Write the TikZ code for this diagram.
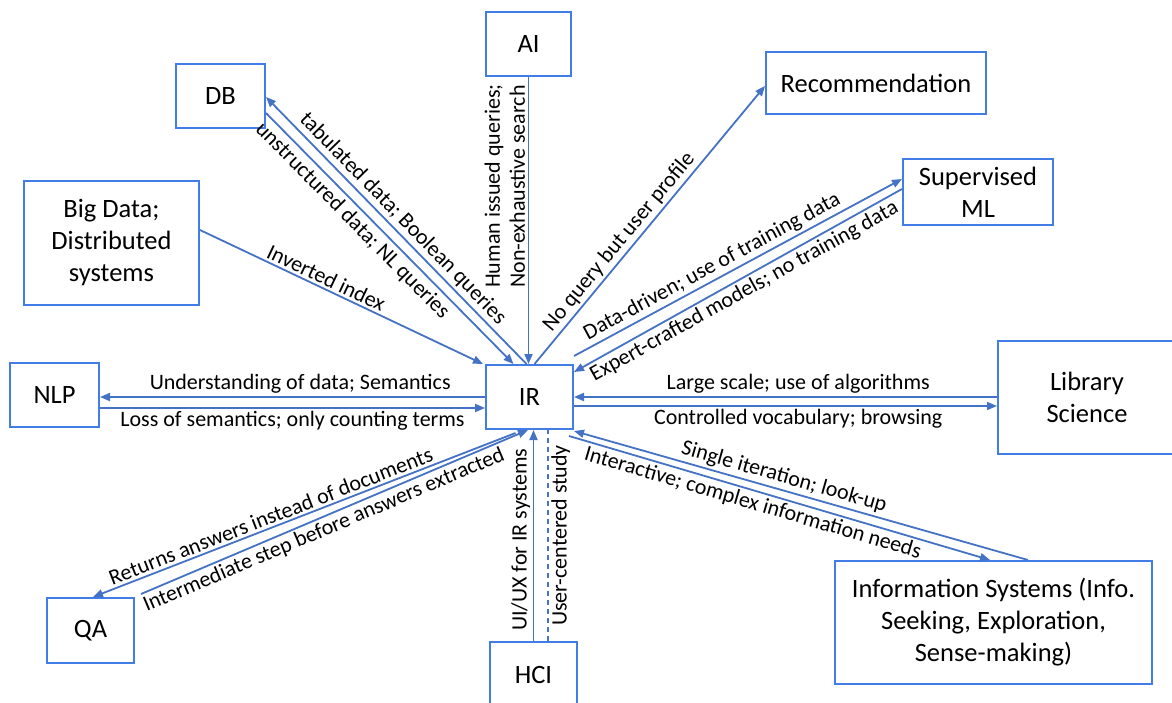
\documentclass[tikz,border=0pt]{standalone}
\usepackage{fontspec}
\setmainfont{Carlito}
\usepackage{tikz}
\usetikzlibrary{arrows.meta,positioning,calc}
\definecolor{irline}{RGB}{68,114,196}
\definecolor{irbox}{RGB}{66,124,230}

\begin{document}
\begin{tikzpicture}[
  x=1pt, y=-1pt,
  box/.style={rectangle, draw=irbox, line width=2pt, fill=white, align=center, inner sep=0pt,
    font=\fontsize{26.5}{32}\selectfont},
  conn/.style={draw=irline, line width=1.8pt, -{Triangle[length=10pt,width=8pt]}},
  plain/.style={draw=irline, line width=1.8pt},
  lbl/.style={font=\fontsize{22}{25}\selectfont, inner sep=2.5pt, sloped},
]
  \useasboundingbox (0,0) rectangle (1172,703);

  % Fields
  \node[box, minimum width=87pt, minimum height=64pt] (ir) at (529.5,397) {IR};
  \node[box, minimum width=85pt, minimum height=64pt] (ai) at (528.5,44) {AI};
  \node[box, minimum width=89pt, minimum height=64pt] (db) at (220.5,96) {DB};
  \node[box, minimum width=175pt, minimum height=124pt] (bigdata) at (111.5,243) {Big Data;\\Distributed\\systems};
  \node[box, minimum width=220pt, minimum height=62pt] (rec) at (876,83) {Recommendation};
  \node[box, minimum width=150pt, minimum height=66pt] (supml) at (978,192) {Supervised\\ML};
  \node[box, minimum width=89pt, minimum height=64pt] (nlp) at (54.5,395) {NLP};
  \node[box, minimum width=178pt, minimum height=113pt] (lib) at (1087,397.5) {Library\\Science};
  \node[box, minimum width=317pt, minimum height=123pt] (infosys) at (993.5,622.5) {Information Systems (Info.\\Seeking, Exploration,\\Sense-making)};
  \node[box, minimum width=87pt, minimum height=65pt] (qa) at (90.5,630.5) {QA};
  \node[box, minimum width=87pt, minimum height=65pt] (hci) at (533.5,674.5) {HCI};

  % Upper half
  \draw[conn] (ai.south) -- node[lbl, sloped=false, rotate=90, anchor=south, align=left, pos=0.38]
    {Human issued queries;\\Non-exhaustive search} (ai.south |- ir.north);
  \draw[conn] ($(ir.north)+(-3,0)$) -- node[lbl, above, pos=0.51] {tabulated data; Boolean queries} ($(db.east)+(0,1)$);
  \draw[conn] ($(db.east)+(0,17)$) -- node[lbl, below, pos=0.39, inner sep=4pt] {unstructured data; NL queries} ($(ir.north)+(-16,0)$);
  \draw[conn] ($(bigdata.east)+(0,-13)$) -- node[lbl, above, pos=0.43] {Inverted index} ($(ir.north west)+(-2,0)$);
  \draw[conn] ($(ir.north)+(5,0)$) -- node[lbl, above, pos=0.41] {No query but user profile} ($(rec.west)+(0,3)$);
  \draw[conn] ($(ir.north east)+(0,-8)$) -- node[lbl, above, pos=0.44] {Data-driven; use of training data} ($(supml.west)+(0,-13)$);
  \draw[conn] ($(supml.west)+(0,-3)$) -- node[lbl, below, pos=0.5] {Expert-crafted models; no training data} ($(ir.east)+(0,-25)$);

  % Left and right
  \draw[conn] (ir.west) -- node[lbl, above, pos=0.48] {Understanding of data; Semantics} (ir.west -| nlp.east);
  \draw[conn] ($(ir.west -| nlp.east)+(0,11)$) -- node[lbl, below, pos=0.5] {Loss of semantics; only counting terms} ($(ir.west)+(0,11)$);
  \draw[conn] (ir.east -| lib.west) -- node[lbl, above, pos=0.47] {Large scale; use of algorithms} (ir.east);
  \draw[conn] ($(ir.east)+(0,9)$) -- node[lbl, below, pos=0.53] {Controlled vocabulary; browsing} ($(ir.east -| lib.west)+(0,9)$);

  % Lower half
  \draw[conn] ($(infosys.north)+(34.5,0)$) -- node[lbl, above, pos=0.545] {Single iteration; look-up} ($(ir.south east)+(0,1)$);
  \draw[conn] ($(ir.south east)+(-5,6)$) -- node[lbl, below, pos=0.445] {Interactive; complex information needs} ($(infosys.north)+(-3.5,0)$);
  \draw[conn] ($(ir.south)+(-14,3)$) -- node[lbl, above, pos=0.57] {Returns answers instead of documents} ($(qa.north)+(2.5,0)$);
  \draw[conn] ($(qa.north east)+(6,-3)$) -- node[lbl, below, pos=0.46] {Intermediate step before answers extracted} ($(ir.south)+(-1.5,0)$);
  \draw[conn] (hci.north) -- node[lbl, above, pos=0.48] {UI/UX for IR systems} (hci.north |- ir.south);
  \draw[plain, dashed, dash pattern=on 5pt off 4pt] ($(hci.north)+(14.5,0)$) -- node[lbl, below, pos=0.5] {User-centered study} ($(ir.south)+(18.5,0)$);
\end{tikzpicture}
\end{document}
